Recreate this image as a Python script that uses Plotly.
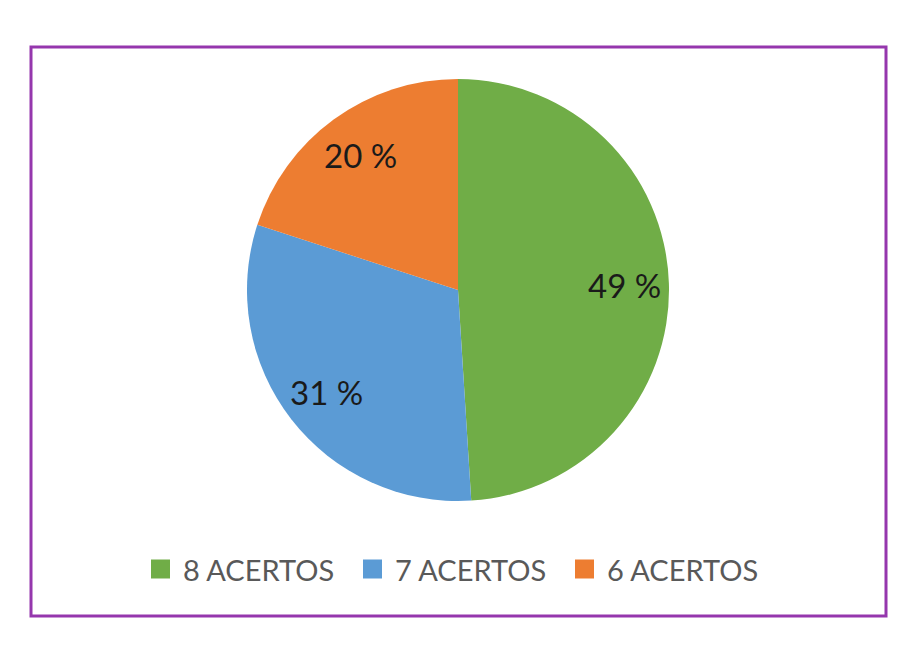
import math

import plotly.graph_objects as go

# distribuição de acertos
labels = ["8 ACERTOS", "7 ACERTOS", "6 ACERTOS"]
values = [49, 31, 20]
colors = ["#70AD47", "#5B9BD5", "#ED7D31"]

W, H = 915, 667
OFF = 8  # margem do body na página


def px_x(x):
    return (x - OFF) / W


def px_y(y):
    return 1 - (y - OFF) / H


CX, CY, R = 458, 290, 211  # centro e raio da pizza em pixels

fig = go.Figure(
    go.Pie(
        labels=labels,
        values=values,
        sort=False,
        direction="clockwise",
        rotation=0,
        marker=dict(colors=colors, line=dict(color="white", width=0)),
        textinfo="none",
        showlegend=False,
        domain=dict(x=[0, 2 * px_x(CX)], y=[px_y(CY + R), px_y(CY - R)]),
        hoverinfo="label+percent",
    )
)

# rótulos de porcentagem, no ângulo médio de cada fatia
total = sum(values)
acc = 0
for v in values:
    mid = (acc + v / 2) / total * 2 * math.pi
    acc += v
    fig.add_annotation(
        x=px_x(CX + 0.79 * R * math.sin(mid)),
        y=px_y(CY - 0.79 * R * math.cos(mid)),
        xref="paper",
        yref="paper",
        xanchor="center",
        yanchor="middle",
        text=f"{v} %",
        showarrow=False,
        font=dict(family="Lato", size=33, color="#1A1A1A"),
    )

# legenda embaixo
leg_x = [151, 363, 575]
leg_y = 569
for lx, lab, col in zip(leg_x, labels, colors):
    fig.add_shape(
        type="rect",
        xref="paper",
        yref="paper",
        x0=px_x(lx),
        x1=px_x(lx + 19),
        y0=px_y(leg_y + 9.5),
        y1=px_y(leg_y - 9.5),
        fillcolor=col,
        line=dict(width=0),
    )
    fig.add_annotation(
        x=px_x(lx + 30),
        y=px_y(leg_y),
        xref="paper",
        yref="paper",
        xanchor="left",
        yanchor="middle",
        text=lab,
        showarrow=False,
        font=dict(family="Lato", size=29, color="#595959"),
    )

# moldura roxa
fig.add_shape(
    type="rect",
    xref="paper",
    yref="paper",
    x0=px_x(31),
    x1=px_x(886),
    y0=px_y(616),
    y1=px_y(47),
    line=dict(color="#9537AD", width=3),
)

fig.update_layout(
    width=W,
    height=H,
    margin=dict(l=0, r=0, t=0, b=0),
    paper_bgcolor="white",
    plot_bgcolor="white",
)

fig.write_html("out.html")
